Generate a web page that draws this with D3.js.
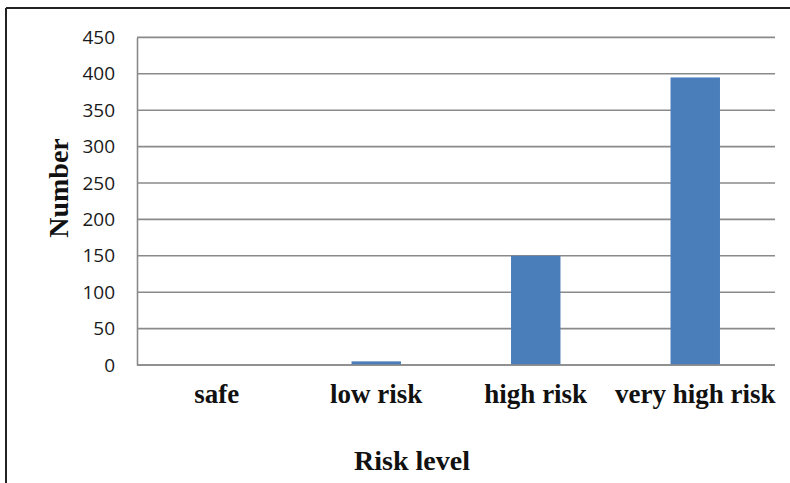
<!DOCTYPE html>
<html>
<head>
<meta charset="utf-8">
<script src="https://cdn.jsdelivr.net/npm/d3@7"></script>
<style>
  html, body { margin: 0; padding: 0; background: #fff; }
  svg { display: block; }
</style>
</head>
<body>
<div id="chart"></div>
<script>
// data
const categories = ['safe', 'low risk', 'high risk', 'very high risk'];
const counts = [0, 5, 150, 395];
const yTicks = [0, 50, 100, 150, 200, 250, 300, 350, 400, 450];

const width = 790;
const height = 483;
const plot = { left: 137, right: 775, top: 37.4, bottom: 365 };

const svg = d3.select('#chart')
  .append('svg')
  .attr('width', width)
  .attr('height', height);

// outer frame (cropped at right/bottom)
svg.append('line')
  .attr('x1', 6).attr('x2', width + 5)
  .attr('y1', 8).attr('y2', 8)
  .attr('stroke', '#222').attr('stroke-width', 2);
svg.append('line')
  .attr('x1', 6).attr('x2', 6)
  .attr('y1', 8).attr('y2', height + 5)
  .attr('stroke', '#222').attr('stroke-width', 2);

// scales
const x = d3.scaleBand()
  .domain(categories)
  .range([plot.left, plot.right])
  .paddingInner(0.69)
  .paddingOuter(0.345);

const y = d3.scaleLinear()
  .domain([0, 450])
  .range([plot.bottom, plot.top]);

// grid lines
svg.append('g')
  .selectAll('line')
  .data(yTicks)
  .enter()
  .append('line')
  .attr('x1', plot.left)
  .attr('x2', plot.right)
  .attr('y1', d => y(d))
  .attr('y2', d => y(d))
  .attr('stroke', '#8a8a8a')
  .attr('stroke-width', 1.6);

// y axis
const yAxis = svg.append('g')
  .attr('transform', `translate(${plot.left},0)`)
  .call(d3.axisLeft(y).tickValues(yTicks).tickSize(0).tickPadding(22));
yAxis.select('.domain').attr('stroke', '#8a8a8a').attr('stroke-width', 1.6);
yAxis.selectAll('text')
  .style('font-family', '"Open Sans", sans-serif')
  .style('font-size', '19px')
  .attr('fill', '#1a1a1a');

// bars
svg.append('g')
  .selectAll('rect')
  .data(counts)
  .enter()
  .append('rect')
  .attr('x', (d, i) => x(categories[i]))
  .attr('y', d => y(d))
  .attr('width', x.bandwidth())
  .attr('height', d => y(0) - y(d))
  .attr('fill', '#4a7ebb');

// x axis line
svg.append('line')
  .attr('x1', plot.left).attr('x2', plot.right)
  .attr('y1', y(0)).attr('y2', y(0))
  .attr('stroke', '#8a8a8a').attr('stroke-width', 1.6);

// category labels
svg.append('g')
  .selectAll('text')
  .data(categories)
  .enter()
  .append('text')
  .attr('x', d => x(d) + x.bandwidth() / 2)
  .attr('y', 403)
  .attr('text-anchor', 'middle')
  .style('font-family', '"Liberation Serif", "Times New Roman", serif')
  .style('font-weight', 'bold')
  .style('font-size', '27px')
  .attr('fill', '#111')
  .text(d => d);

// axis titles
svg.append('text')
  .attr('x', 412)
  .attr('y', 470)
  .attr('text-anchor', 'middle')
  .style('font-family', '"Liberation Serif", "Times New Roman", serif')
  .style('font-weight', 'bold')
  .style('font-size', '28px')
  .attr('fill', '#111')
  .text('Risk level');

svg.append('text')
  .attr('transform', 'translate(68,188) rotate(-90)')
  .attr('text-anchor', 'middle')
  .style('font-family', '"Liberation Serif", "Times New Roman", serif')
  .style('font-weight', 'bold')
  .style('font-size', '28px')
  .attr('fill', '#111')
  .text('Number');
</script>
</body>
</html>
